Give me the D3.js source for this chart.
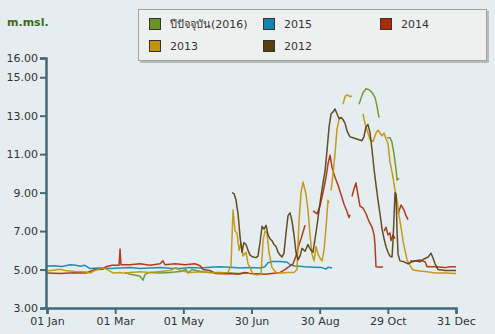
<!DOCTYPE html>
<html><head><meta charset="utf-8">
<script src="https://cdn.jsdelivr.net/npm/d3@7"></script>
<style>
html,body{margin:0;padding:0;background:#e6edf0;}
svg{display:block;font-family:"DejaVu Sans","Noto Sans",sans-serif;}
</style></head>
<body><svg id="c" width="495" height="334"></svg>
<script>
// ---------- data (day of year, level m.msl.) ----------
const seriesNames = ["ปีปัจจุบัน(2016)", "2015", "2014", "2013", "2012"];
const seriesColors = ["#6a9420", "#0f86ab", "#ad2d0b", "#c29408", "#574010"];
const xTickLabels = ["01 Jan", "01 Mar", "01 May", "30 Jun", "30 Aug", "29 Oct", "31 Dec"];
const yTickValues = [3, 5, 7, 9, 11, 13, 15, 16];

const s2016 = [[69.6,4.85],[74.1,4.75],[79.4,4.7],[83,4.65],[85.7,4.45],[87.5,4.75],[91.9,4.85],[100.9,4.82],[109.8,4.85],[118.7,4.9],[124.1,5.0],[125.8,4.82],[129.4,5.0],[133,4.95],[139.2,4.88],[145.5,4.85],[154.4,4.85],[163.3,4.82],[172.3,4.8],[179.4,4.82],
  null,[278.5,13.6],[280.2,13.9],[282,14.2],[284.7,14.4],[287.4,14.35],[290.1,14.2],[292.7,13.95],[294.5,13.5],[296.3,12.9],
  null,[303.5,11.85],[306.1,11.85],[307.9,11.6],[309.7,11.0],[311.5,10.2],[312.4,9.65],[314.2,9.75]];

const s2015 = [[0,5.18],[7.1,5.2],[13.4,5.16],[20.5,5.25],[25.9,5.22],[29.5,5.17],[33.9,5.22],[38.4,5.05],[47.3,5.08],[56.2,5.05],[65.2,5.08],[74.1,5.1],[83,5.05],[91.9,5.08],[100.9,5.1],[109.8,5.07],[118.7,5.06],[127.6,5.1],[136.6,5.08],[145.5,5.12],[154.4,5.15],[163.3,5.12],[172.3,5.08],[181.2,5.1],[190.1,5.08],[194.6,5.15],[197.2,5.35],[200.8,5.42],[208,5.42],[214.2,5.38],[217.8,5.22],[221.3,5.18],[230.3,5.14],[239.2,5.12],[245.4,5.1],[249,5.02],[250.8,5.12],[254.4,5.08]];

const s2014 = [[0,4.82],[11.6,4.8],[25,4.83],[34.8,4.82],[38.4,4.9],[42.8,5.0],[50,5.02],[52.7,5.15],[58,5.22],[64.3,5.22],[65.2,6.07],[66,5.25],[74.1,5.25],[83,5.3],[91.9,5.22],[100.9,5.3],[103.5,5.45],[105.3,5.25],[114.2,5.3],[123.2,5.25],[132.1,5.3],[136.6,5.2],[139.2,5.0],[145.5,4.95],[150,4.8],[156.2,4.78],[163.3,4.8],[170.5,4.75],[176.7,4.85],[181.2,4.8],[188.3,4.78],[194.6,4.75],[200.8,4.8],[208,4.85],[212.4,5.0],[216,5.15],[219.6,5.3],[222.2,5.7],[224.9,6.3],[226.7,6.6],[228.5,6.95],[230.3,7.3],
  null,[237.4,8.05],[241,7.9],[243.6,8.3],[246.3,9.0],[249,9.8],[250.8,10.5],[252.6,10.95],[254.4,10.3],[257,9.8],[259.7,9.4],[262.4,8.9],[265.1,8.4],[267.8,8.0],[269.5,7.7],[270.4,7.85],
  null,[272.2,8.8],[274,9.2],[275.7,9.5],[277.5,8.9],[279.3,8.3],[282,8.2],[284.7,7.9],[287.4,7.5],[290.1,7.2],[291.9,6.8],[292.7,6.3],[293.6,5.15],[297.2,5.12],[299.9,5.15],
  null,[300.8,7.0],[302.5,7.2],[304.3,6.8],[306.1,6.9],[307,6.5],[308.8,6.8],[310.6,6.6],
  null,[313.3,7.9],[316,8.35],[318.6,8.1],[320.4,7.8],[322.2,7.6],
  null,[324,5.45],[328.4,5.45],[332.9,5.5],[337.4,5.4],[339.2,5.15],[346.3,5.15],[355.2,5.1],[359.7,5.15],[365,5.15]];

const s2013 = [[0,4.92],[7.1,4.98],[11.6,5.02],[16,4.95],[25,4.9],[33.9,4.88],[38.4,4.82],[42.8,4.95],[47.3,5.05],[51.8,5.05],[56.2,4.92],[58.9,4.82],[65.2,4.85],[69.6,4.8],[74.1,4.85],[83,4.88],[91.9,4.85],[100.9,4.9],[109.8,4.95],[115.1,5.1],[118.7,4.95],[127.6,4.85],[136.6,4.88],[145.5,4.85],[154.4,4.82],[161.5,4.85],[164.2,5.2],[166,8.1],[167.8,7.0],[169.6,6.9],[171.4,6.0],[173.1,6.4],[174.9,5.7],[177.6,5.9],[179.4,5.3],[181.2,5.1],[183.9,4.75],[187.4,4.72],[191,4.75],[192.8,6.5],[194.6,7.0],[196.3,6.9],[198.1,5.9],[200.8,5.1],[204.4,4.85],[209.7,4.82],[215.1,4.85],[220.4,4.85],[223.1,5.0],[224.9,7.5],[226.7,9.0],[228.5,9.55],[231.2,8.9],[232.9,8.1],[234.7,6.8],[236.5,5.8],[238.3,5.45],[240.1,6.2],[241.9,5.8],[243.6,5.6],[245.4,5.45],[247.2,6.0],[249,7.2],[250.8,8.6],[251.7,8.45],
  null,[253.5,9.1],[255.3,10.0],[257,11.0],[258.8,12.3],[260.6,12.8],[262.4,12.9],[263.3,12.9],
  null,[264.2,13.6],[266,14.0],[267.8,14.08],[270.4,14.0],[272.2,14.02],
  null,[282,13.1],[283.8,12.6],[285.6,12.25],[288.3,11.75],[290.9,11.65],[293.6,12.1],[295.4,12.25],[297.2,12.1],[299,11.95],[300.8,12.1],[302.5,11.8],[304.3,11.55],[306.1,10.6],[308.8,9.8],[310.6,9.1],[312.4,8.6],[314.2,7.8],[315.9,7.2],[317.7,6.5],[319.5,6.0],[321.3,5.5],[324,5.2],[326.6,4.98],[332.9,4.92],[339.2,4.88],[346.3,4.82],[355.2,4.82],[365,4.8]];

const s2012 = [[165.1,9.0],[166.9,8.95],[168.7,8.6],[170.5,7.9],[172.3,6.7],[174,5.9],[175.8,6.4],[177.6,6.3],[179.4,6.0],[181.2,5.75],[183.9,5.65],[186.5,5.62],[188.3,5.7],[190.1,6.4],[191.9,7.25],[193.7,7.1],[195.5,7.3],[197.2,6.8],[199,6.6],[200.8,6.5],[202.6,6.3],[204.4,6.2],[206.2,5.9],[208,5.75],[209.7,5.65],[211.5,5.85],[213.3,6.9],[215.1,7.8],[216.9,7.95],[218.7,7.5],[220.4,6.8],[222.2,5.9],[224,5.5],[225.8,5.7],[227.6,6.1],[230.3,5.95],[232.9,6.3],[235.6,6.0],[237.4,5.9],[239.2,6.6],[241,7.3],[242.8,8.1],[244.5,8.8],[246.3,9.5],[248.1,10.1],[249.9,11.2],[251.7,12.4],[253.5,13.1],[255.3,13.2],[257,13.35],[258.8,13.1],[260.6,12.85],[262.4,12.9],[264.2,12.8],[266,12.6],[267.8,12.2],[270.4,11.9],[273.1,11.85],[275.7,11.8],[278.4,11.75],[281.1,11.7],[282.8,11.9],[284.6,12.4],[286.4,12.55],[288.3,12.1],[290.1,11.2],[291.9,10.2],[293.6,9.4],[295.4,8.6],[297.2,7.9],[299,7.1],[300.8,6.6],[302.5,6.2],[304.3,5.9],[306.1,5.7],[307.9,5.65],[308.8,6.5],[310.6,9.0],[311.5,8.9],[312.4,7.0],[313.3,5.8],[315,5.45],[318.6,5.4],[322.2,5.3],[325.8,5.4],[329.3,5.45],[332.9,5.4],[336.5,5.55],[340.1,5.65],[342.7,5.85],[344.5,5.6],[346.3,5.3],[349,5.0],[355.2,4.95],[365,4.95]];

const seriesData = [s2016, s2015, s2014, s2013, s2012];

// ---------- chart ----------
const svg = d3.select("#c");
const axisColor = "#416a7b";
const x = d3.scaleLinear().domain([0, 365]).range([47, 456]);
const y = d3.scaleLinear().domain([3, 16]).range([308, 58]);

svg.append("text").attr("x", 7).attr("y", 26)
  .attr("font-size", 11).attr("font-weight", "bold").attr("fill", "#3d6a12").text("m.msl.");

// lines
const line = d3.line().defined(d => d !== null).x(d => x(d[0])).y(d => y(d[1]));
const gl = svg.append("g");
seriesData.forEach((s, i) => {
  gl.append("path").datum(s).attr("d", line).attr("fill", "none")
    .attr("stroke", seriesColors[i]).attr("stroke-width", 1.5)
    .attr("stroke-linejoin", "round").attr("opacity", 0.92);
});

// axes
const xTickVals = xTickLabels.map((_, i) => i * 365 / 6);
const gx = svg.append("g").attr("transform", "translate(0,308)")
  .call(d3.axisBottom(x).tickValues(xTickVals).tickFormat((d, i) => xTickLabels[i]).tickSizeOuter(0).tickSize(6).tickPadding(3));
const gy = svg.append("g").attr("transform", "translate(46,0)")
  .call(d3.axisLeft(y).tickValues(yTickValues).tickFormat(d3.format(".2f")).tickSizeOuter(0).tickSize(6).tickPadding(2));
[gx, gy].forEach(g => {
  g.select(".domain").attr("stroke", axisColor).attr("stroke-width", 2.5);
  g.selectAll(".tick line").attr("stroke", axisColor).attr("stroke-width", 2);
  g.selectAll(".tick text").attr("fill", "#333").attr("font-size", 11)
    .attr("font-family", "'DejaVu Sans','Noto Sans',sans-serif");
});

// legend
const lg = svg.append("g");
lg.append("rect").attr("x", 140).attr("y", 11).attr("width", 349).attr("height", 52).attr("fill", "#9a9a9a").attr("opacity", 0.6);
lg.append("rect").attr("x", 138.5).attr("y", 9.5).attr("width", 348).attr("height", 51).attr("fill", "#eef0ef").attr("stroke", "#a3a3a3");
const legPos = [[149, 18], [263, 18], [380, 18], [149, 40], [263, 40]];
seriesNames.forEach((n, i) => {
  const [lx, ly] = legPos[i];
  lg.append("rect").attr("x", lx + 0.5).attr("y", ly + 0.5).attr("width", 11).attr("height", 11)
    .attr("fill", seriesColors[i]).attr("stroke", "#333").attr("stroke-width", 1);
  lg.append("text").attr("x", lx + 21).attr("y", ly + 10).attr("font-size", 11).attr("fill", "#333").text(n);
});
</script></body></html>
